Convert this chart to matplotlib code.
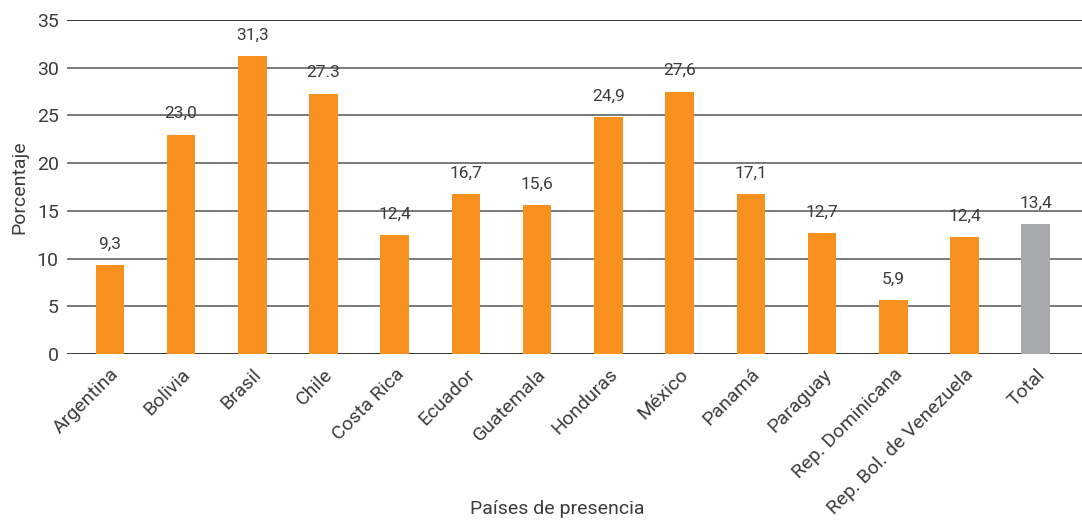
import matplotlib
matplotlib.use("Agg")
import matplotlib.pyplot as plt

categories = ["Argentina", "Bolivia", "Brasil", "Chile", "Costa Rica", "Ecuador",
              "Guatemala", "Honduras", "México", "Panamá", "Paraguay",
              "Rep. Dominicana", "Rep. Bol. de Venezuela", "Total"]
values = [9.3, 23.0, 31.2, 27.3, 12.5, 16.8, 15.6, 24.8, 27.5, 16.8, 12.7, 5.7, 12.3, 13.6]
value_labels = ["9,3", "23,0", "31,3", "27.3", "12,4", "16,7", "15,6", "24,9",
                "27,6", "17,1", "12,7", "5,9", "12,4", "13,4"]
yticks = [0, 5, 10, 15, 20, 25, 30, 35]

orange = "#f7901e"
grey = "#a7a9ac"
colors = [orange] * (len(categories) - 1) + [grey]

plt.rcParams['font.family'] = ['Roboto', 'DejaVu Sans']
txt = "#3c3c3c"
fw = 'normal'

fig = plt.figure(figsize=(10.82, 5.2), dpi=100)
ax = fig.add_axes([0.062, 0.319, 0.938, 0.6425])

x = list(range(len(categories)))
ax.bar(x, values, width=0.4, color=colors, zorder=3)
for xi, v, lab in zip(x, values, value_labels):
    ax.text(xi, v + 1.4, lab, ha='center', va='bottom', fontsize=12.5,
            color=txt, fontweight=fw)

ax.set_xlim(-0.6, 13.65)
ax.set_ylim(0, 35)
ax.set_yticks(yticks)
ax.set_yticklabels([str(t) for t in yticks], fontsize=14, color=txt, fontweight=fw)
for t in yticks:
    ax.axhline(t, color='#000000' if t in (0, 35) else '#555555', lw=1.1, zorder=1)
ax.set_xticks(x)
ax.set_xticklabels(categories, rotation=45, ha='right', rotation_mode='anchor',
                   fontsize=14, color=txt, fontweight=fw)
ax.tick_params(axis='both', length=0, pad=6)
ax.tick_params(axis='x', pad=8)
for s in ax.spines.values():
    s.set_visible(False)

ax.set_ylabel("Porcentaje", fontsize=14, color=txt, fontweight=fw, labelpad=6)
fig.text(0.515, 0.004, "Países de presencia", ha='center', va='bottom', fontsize=14,
         color=txt, fontweight=fw)

fig.savefig("out.png", dpi=100)
